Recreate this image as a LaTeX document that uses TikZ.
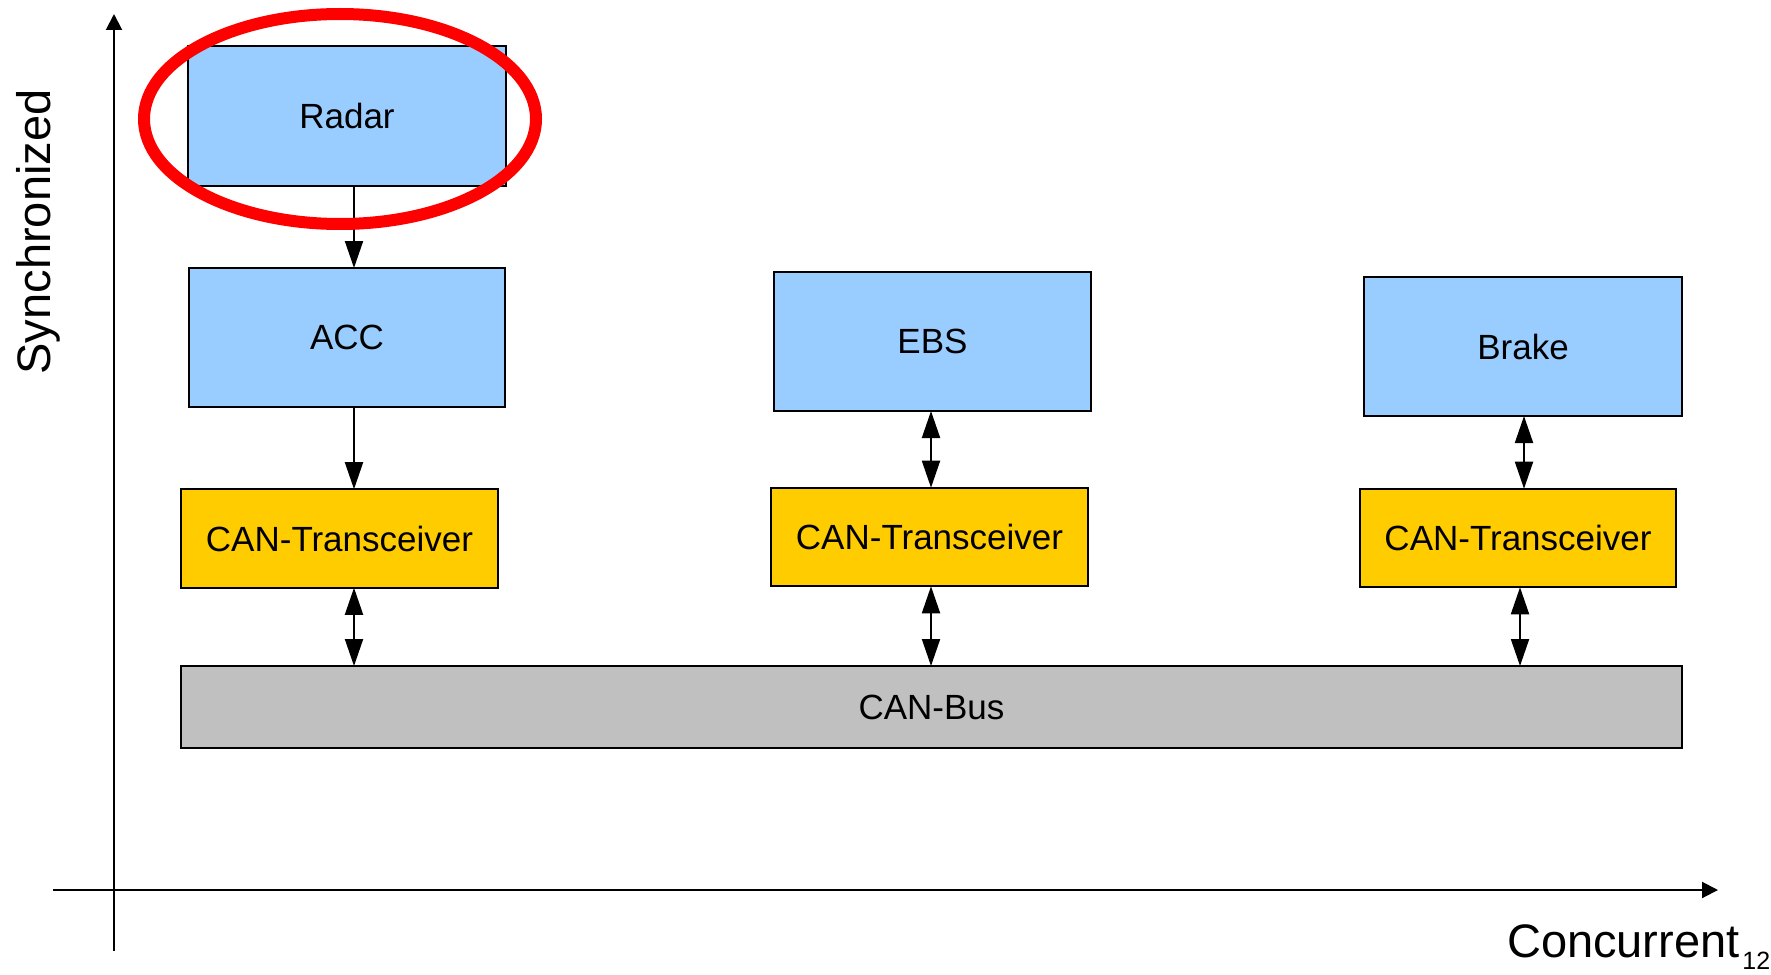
\documentclass[tikz,border=0pt]{standalone}
\usepackage{fontspec}
\setmainfont{Liberation Sans}
\usetikzlibrary{arrows.meta}
\definecolor{ecublue}{HTML}{99CCFF}
\definecolor{canyellow}{HTML}{FFCC00}
\definecolor{busgray}{HTML}{C0C0C0}
\begin{document}
\begin{tikzpicture}[x=0.5pt,y=-0.5pt,
  box/.style={draw=black, line width=1pt, inner sep=0pt, outer sep=0pt,
    font=\fontsize{17.5}{21}\selectfont},
  ecu/.style={box, fill=ecublue, minimum width=158.5pt, minimum height=69.5pt},
  trx/.style={box, fill=canyellow, minimum width=158.5pt, minimum height=49.3pt},
  bus/.style={box, fill=busgray, minimum width=750.5pt, minimum height=41pt},
  arr/.style={line width=1pt, -{Triangle[length=13.5pt,width=9pt]}},
  biarr/.style={line width=1pt, {Triangle[length=13.5pt,width=9pt]}-{Triangle[length=13.5pt,width=9pt]}},
  axis/.style={line width=1pt, -{Triangle[length=8pt,width=8pt]}},
  axislabel/.style={inner sep=0pt, font=\fontsize{23.5}{28}\selectfont}]
\useasboundingbox (0,0) rectangle (1771,974);

% axes
\coordinate (yfrom) at (114,951);
\coordinate (yto) at (114,14);
\coordinate (xfrom) at (53,890);
\coordinate (xto) at (1718,890);
\draw[axis] (yfrom) -- (yto);
\draw[axis] (xfrom) -- (xto);
\node[axislabel, rotate=90, anchor=base] (ylab) at (50,232) {Synchronized};
\node[axislabel, anchor=base east] (xlab) at (1740,957) {Concurrent};
\node[inner sep=0pt, anchor=base west, font=\fontsize{12.5}{15}\selectfont] (pagenum) at (1742,969) {12};

% control units
\node[ecu, minimum width=159pt, minimum height=70pt] (radar) at (347,116) {Radar};
\node[ecu, minimum width=158pt] (acc) at (347,337.5) {ACC};
\node[ecu] (ebs) at (932.5,341.5) {EBS};
\node[ecu, minimum width=159pt] (brake) at (1523,346.5) {Brake};

% transceivers
\node[trx] (trx1) at (339.5,538.5) {CAN-Transceiver};
\node[trx] (trx2) at (929.5,537) {CAN-Transceiver};
\node[trx, minimum width=158pt] (trx3) at (1518,538) {CAN-Transceiver};

% bus
\node[bus] (canbus) at (931.5,707) {CAN-Bus};

% connections
\draw[arr] ([xshift=3.5pt]radar.south) -- ([xshift=3.5pt]acc.north);
\draw[arr] ([xshift=3.5pt]acc.south) -- ([xshift=7.25pt]trx1.north);
\draw[biarr] ([xshift=7.25pt]trx1.south) -- ([xshift=7.25pt]trx1.south |- canbus.north);
\draw[biarr] ([xshift=-0.75pt]ebs.south) -- ([xshift=0.75pt]trx2.north);
\draw[biarr] ([xshift=0.75pt]trx2.south) -- ([xshift=0.75pt]trx2.south |- canbus.north);
\draw[biarr] ([xshift=0.5pt]brake.south) -- ([xshift=3pt]trx3.north);
\draw[biarr] ([xshift=1pt]trx3.south) -- ([xshift=1pt]trx3.south |- canbus.north);

% highlight around the radar unit
\draw[red, line width=6pt] (340,119) ellipse [x radius=196, y radius=105];
\end{tikzpicture}
\end{document}
